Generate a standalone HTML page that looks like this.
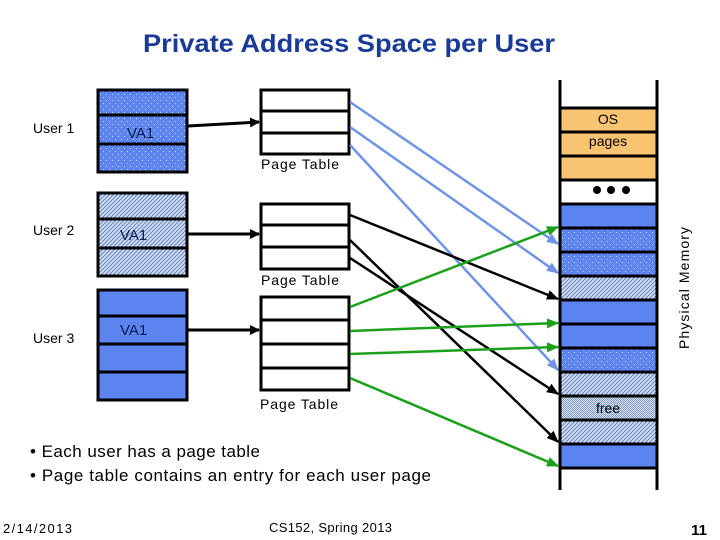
<!DOCTYPE html>
<html><head><meta charset="utf-8"><style>
html,body{margin:0;padding:0;background:#fff;}
svg{display:block;}
text{font-family:"Liberation Sans",sans-serif;}
</style></head><body>
<svg width="720" height="540" viewBox="0 0 720 540" xmlns="http://www.w3.org/2000/svg">
<defs>
<pattern id="dot" width="6" height="6" patternUnits="userSpaceOnUse">
<rect width="6" height="6" fill="#5b84f0"/><rect x="1" y="1" width="1" height="1" fill="#cfdcff"/><rect x="4" y="4" width="1" height="1" fill="#cfdcff"/></pattern>
<pattern id="hat" width="4" height="4" patternUnits="userSpaceOnUse">
<rect width="4" height="4" fill="#dde6f6"/><path d="M-1,1 L1,-1 M0,4 L4,0 M3,5 L5,3" stroke="#6e8cc8" stroke-width="1.3"/></pattern>
<pattern id="fre" width="2" height="2" patternUnits="userSpaceOnUse">
<rect width="2" height="2" fill="#dfe7f6"/><rect width="1" height="1" fill="#7e98cc"/><rect x="1" y="1" width="1" height="1" fill="#7e98cc"/></pattern>
<marker id="ak" markerWidth="10" markerHeight="10" refX="9" refY="5" orient="auto" markerUnits="userSpaceOnUse"><path d="M0,0 L10,5 L0,10z" fill="#000"/></marker>
<marker id="ab" markerWidth="12" markerHeight="10" refX="11" refY="5" orient="auto" markerUnits="userSpaceOnUse"><path d="M0,0 L12,5 L0,10z" fill="#6f94e6"/></marker>
<marker id="ag" markerWidth="12" markerHeight="10" refX="11" refY="5" orient="auto" markerUnits="userSpaceOnUse"><path d="M0,0 L12,5 L0,10z" fill="#1aa01a"/></marker>
<marker id="ax" markerWidth="12" markerHeight="10" refX="11" refY="5" orient="auto" markerUnits="userSpaceOnUse"><path d="M0,0 L12,5 L0,10z" fill="#000"/></marker>
</defs>

<text x="143" y="52" font-size="25" font-weight="bold" fill="#1a3a9a" textLength="412" lengthAdjust="spacingAndGlyphs">Private Address Space per User</text>

<text x="33" y="133" font-size="14">User 1</text>
<text x="33" y="235" font-size="14">User 2</text>
<text x="33" y="343" font-size="14">User 3</text>

<g stroke="#000" stroke-width="3">
<rect x="98" y="90" width="89" height="82" fill="url(#dot)"/>
<line x1="98" y1="115" x2="187" y2="115"/><line x1="98" y1="144" x2="187" y2="144"/>
<rect x="98" y="193" width="89" height="83" fill="url(#hat)"/>
<line x1="98" y1="219" x2="187" y2="219"/><line x1="98" y1="248" x2="187" y2="248"/>
<rect x="98" y="290" width="89" height="110" fill="#5b84f0"/>
<line x1="98" y1="316" x2="187" y2="316"/><line x1="98" y1="344" x2="187" y2="344"/><line x1="98" y1="372" x2="187" y2="372"/>

<rect x="261" y="90" width="88" height="64" fill="#fff"/>
<line x1="261" y1="111" x2="349" y2="111"/><line x1="261" y1="133" x2="349" y2="133"/>
<rect x="261" y="204" width="88" height="65" fill="#fff"/>
<line x1="261" y1="225" x2="349" y2="225"/><line x1="261" y1="247" x2="349" y2="247"/>
<rect x="261" y="297" width="88" height="93" fill="#fff"/>
<line x1="261" y1="320" x2="349" y2="320"/><line x1="261" y1="344" x2="349" y2="344"/><line x1="261" y1="368" x2="349" y2="368"/>
</g>
<text x="127" y="138" font-size="15" fill="#0a1a50">VA1</text>
<text x="120" y="240" font-size="15" fill="#0a1a50">VA1</text>
<text x="120" y="335" font-size="15" fill="#0a1a50">VA1</text>
<text x="261" y="169" font-size="14" textLength="78">Page Table</text>
<text x="261" y="285" font-size="14" textLength="78">Page Table</text>
<text x="260" y="409" font-size="14" textLength="78">Page Table</text>

<g stroke="#000" stroke-width="3">
<line x1="188" y1="126" x2="259" y2="122" marker-end="url(#ak)"/>
<line x1="188" y1="234" x2="259" y2="234" marker-end="url(#ak)"/>
<line x1="188" y1="330" x2="259" y2="330" marker-end="url(#ak)"/>
</g>

<g stroke="#000" stroke-width="3">
<line x1="560" y1="80" x2="560" y2="490"/><line x1="657" y1="80" x2="657" y2="490"/>
<rect x="560" y="108" width="97" height="72" fill="#f8c471"/>
<rect x="560" y="204" width="97" height="24" fill="#5b84f0"/>
<rect x="560" y="228" width="97" height="48" fill="url(#dot)"/>
<rect x="560" y="276" width="97" height="24" fill="url(#hat)"/>
<rect x="560" y="300" width="97" height="48" fill="#5b84f0"/>
<rect x="560" y="348" width="97" height="24" fill="url(#dot)"/>
<rect x="560" y="372" width="97" height="24" fill="url(#hat)"/>
<rect x="560" y="396" width="97" height="24" fill="url(#fre)"/>
<rect x="560" y="420" width="97" height="24" fill="url(#hat)"/>
<rect x="560" y="444" width="97" height="24" fill="#5b84f0"/>
<line x1="560" y1="132" x2="657" y2="132"/><line x1="560" y1="156" x2="657" y2="156"/>
<line x1="560" y1="252" x2="657" y2="252"/><line x1="560" y1="324" x2="657" y2="324"/>
</g>
<text x="608" y="124" font-size="14" text-anchor="middle">OS</text>
<text x="608" y="146" font-size="14" text-anchor="middle">pages</text>
<circle cx="597" cy="190" r="4"/><circle cx="611" cy="190" r="4"/><circle cx="626" cy="190" r="4"/>
<text x="608" y="413" font-size="14" text-anchor="middle">free</text>
<text transform="translate(689,288) rotate(-90)" font-size="14" text-anchor="middle" textLength="122">Physical Memory</text>

<g stroke-width="2.5">
<line x1="350" y1="102" x2="558" y2="244" stroke="#6f94e6" marker-end="url(#ab)"/>
<line x1="350" y1="127" x2="558" y2="273" stroke="#6f94e6" marker-end="url(#ab)"/>
<line x1="350" y1="145" x2="558" y2="370" stroke="#6f94e6" marker-end="url(#ab)"/>
<line x1="350" y1="215" x2="558" y2="299" stroke="#000" marker-end="url(#ax)"/>
<line x1="350" y1="240" x2="558" y2="442" stroke="#000" marker-end="url(#ax)"/>
<line x1="350" y1="258" x2="558" y2="394" stroke="#000" marker-end="url(#ax)"/>
<line x1="350" y1="307" x2="558" y2="227" stroke="#1aa01a" marker-end="url(#ag)"/>
<line x1="350" y1="331" x2="558" y2="323" stroke="#1aa01a" marker-end="url(#ag)"/>
<line x1="350" y1="354" x2="558" y2="347" stroke="#1aa01a" marker-end="url(#ag)"/>
<line x1="350" y1="378" x2="558" y2="466" stroke="#1aa01a" marker-end="url(#ag)"/>
</g>

<text x="30" y="457" font-size="17" textLength="230">• Each user has a page table</text>
<text x="30" y="481" font-size="17" textLength="401">• Page table contains an entry for each user page</text>
<text x="3" y="533" font-size="13" textLength="69">2/14/2013</text>
<text x="269" y="532" font-size="13" textLength="123">CS152, Spring 2013</text>
<text x="707" y="535" font-size="15" font-weight="bold" text-anchor="end">11</text>
</svg>
</body></html>
